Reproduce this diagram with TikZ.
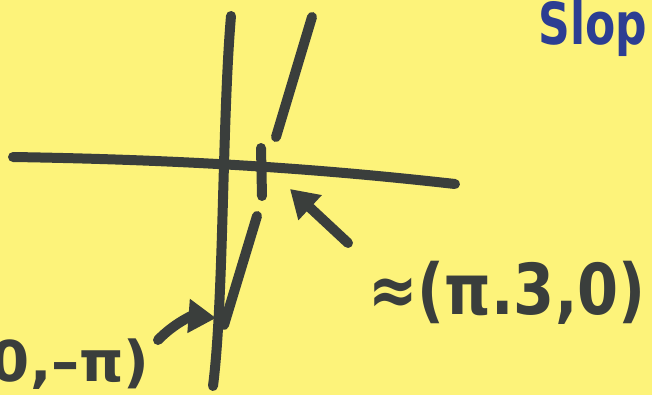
\documentclass[tikz,border=0pt]{standalone}
\usepackage{fontspec}
\setmainfont{DejaVu Sans}
\usepackage{tikz}
\usetikzlibrary{arrows.meta}
\definecolor{notepad}{RGB}{253,243,122}
\definecolor{marker}{RGB}{58,62,60}
\definecolor{bluemarker}{RGB}{44,62,146}

\begin{document}
\begin{tikzpicture}[x=0.02cm, y=-0.02cm,
    stroke/.style={line width=0.2cm, marker, line cap=round},
    pointer/.style={stroke, -{Triangle[length=0.55cm, width=0.65cm]}},
    note/.style={text=marker, inner sep=0pt, anchor=base west},
    title/.style={text=bluemarker, inner sep=0pt, anchor=base west}
]
    % Paper
    \path[use as bounding box, fill=notepad] (0,0) rectangle (652,395);
    \clip (0,0) rectangle (652,395);

    % Axes
    \draw[stroke] (13,157) .. controls (200,160) and (330,170) .. (455,184);
    \draw[stroke] (231,16) .. controls (222,120) and (224,300) .. (213,386);

    % Line through the intercepts
    \draw[stroke] (312,17) -- (276,137);
    \draw[stroke] (261,148) -- (262,196);
    \draw[stroke] (257,216) -- (224,325);

    % Labels
    \node[note, font=\fontsize{40}{44}\selectfont\bfseries] (xlabel) at (368,314) {\scalebox{0.84}[1]{≈(π.3,0)}};
    \node[note, font=\fontsize{32}{36}\selectfont\bfseries, anchor=base east] (ylabel) at (150,381) {(0,–π)};
    \node[title, font=\fontsize{33}{37}\selectfont\bfseries] (slope) at (538,45) {\scalebox{0.76}[1]{Slop}};

    % Pointers
    \coordinate (xtail) at (348,243);
    \coordinate (xint) at (290,189);
    \coordinate (ytail) at (158,340);
    \coordinate (yint) at (216,318);
    \draw[pointer] (xtail) -- (xint);
    \draw[pointer] (ytail) to[bend left=25] (yint);
\end{tikzpicture}
\end{document}
